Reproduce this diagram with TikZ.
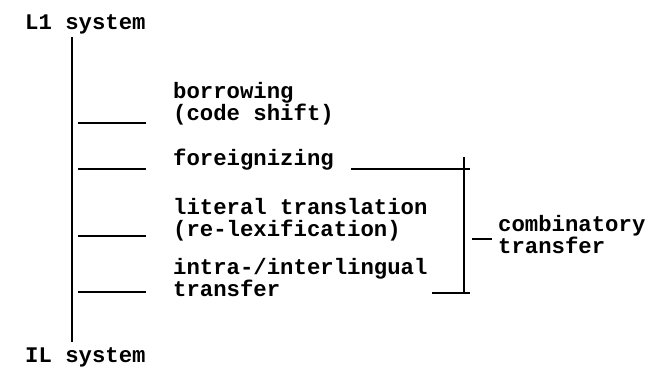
\documentclass[tikz,border=0pt]{standalone}
\usepackage{fontspec}
\setmonofont{Liberation Mono}
\usepackage{tikz}

\begin{document}
\begin{tikzpicture}[
    x=1pt, y=-1pt,
    every node/.style={inner sep=0pt, font=\ttfamily\bfseries\fontsize{22.3}{22}\selectfont},
    item/.style={anchor=base west, align=left},
    rule/.style={line width=1.6pt},
    tick/.style={line width=1.3pt},
]
\useasboundingbox (0,0) rectangle (646,368);

% the two systems and the line between them
\node[item] (l1) at (25,29) {L1 system};
\node[item] (il) at (25,362) {IL system};
\coordinate (spine-top) at (72,37);
\coordinate (spine-bot) at (72,342);
\draw[rule] (spine-top) -- (spine-bot);

% kinds of transfer (base = last line)
\node[item] (borrow) at (173,120) {borrowing\\(code shift)};
\node[item] (foreign) at (173,165) {foreignizing};
\node[item] (literal) at (173,236) {literal translation\\(re-lexification)};
\node[item] (intra) at (173,296) {intra-/interlingual\\transfer};

% ticks off the main line
\foreach \y/\n in {123/borrow, 169/foreign, 236/literal, 292/intra} {
    \coordinate (\n-a) at (78,\y);
    \coordinate (\n-b) at (146,\y);
    \draw[tick] (\n-a) -- (\n-b);
}

% bracket
\coordinate (br-top) at (464,157);
\coordinate (br-bot) at (464,293);
\coordinate (fg-a) at (351,169);
\coordinate (fg-b) at (470,169);
\coordinate (in-a) at (432,293);
\coordinate (in-b) at (470,293);
\draw[rule] (br-top) -- (br-bot);
\draw[tick] (fg-a) -- (fg-b);
\draw[tick] (in-a) -- (in-b);

\node[item] (comb) at (498,253) {combinatory\\transfer};
\coordinate (cb-a) at (472,239);
\coordinate (cb-b) at (492,239);
\draw[tick] (cb-a) -- (cb-b);

\end{tikzpicture}
\end{document}
